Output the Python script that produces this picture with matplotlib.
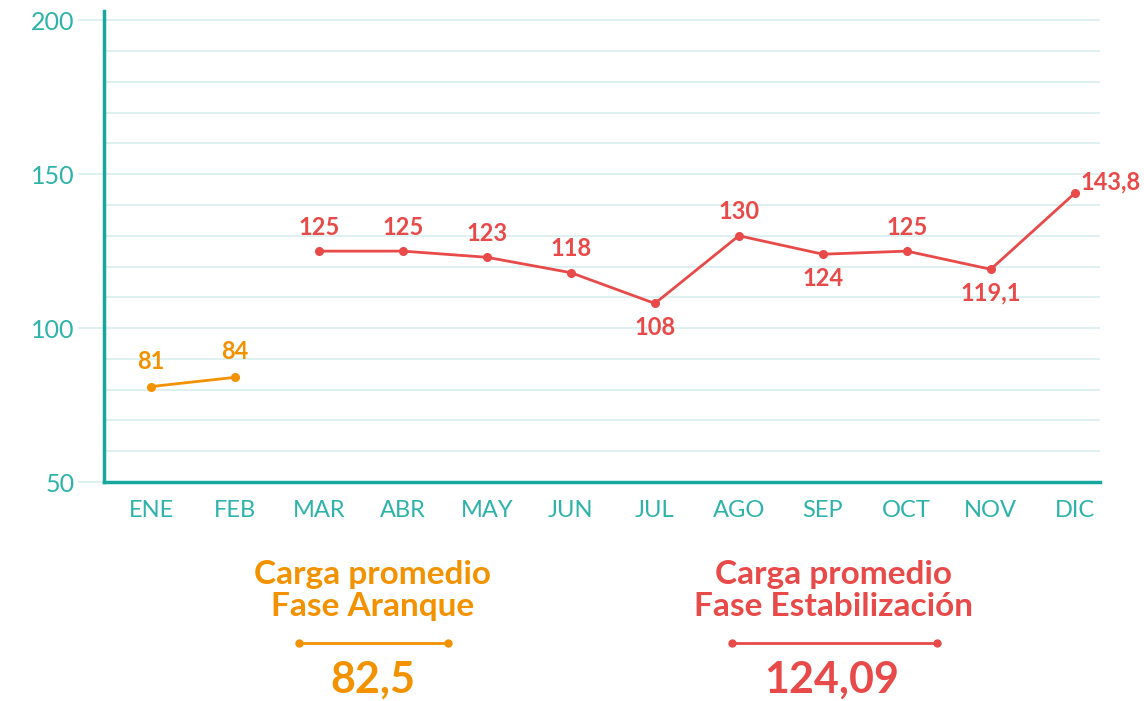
import matplotlib
matplotlib.use('Agg')
import matplotlib.pyplot as plt
from matplotlib.lines import Line2D

# data
meses = ['ENE', 'FEB', 'MAR', 'ABR', 'MAY', 'JUN', 'JUL', 'AGO', 'SEP', 'OCT', 'NOV', 'DIC']
aranque = [81, 84]
estabilizacion = [125, 125, 123, 118, 108, 130, 124, 125, 119.1, 143.8]
prom_aranque = '82,5'
prom_estab = '124,09'
yticks = [50, 100, 150, 200]

naranja = '#F39200'
rojo = '#E84A4A'
teal = '#17A79E'
teal_txt = '#2DB3AA'
grid_col = '#D6ECEC'

plt.rcParams['font.family'] = ['Lato', 'DejaVu Sans']

fig = plt.figure(figsize=(11.44, 7.01), dpi=100)
ax = fig.add_axes([0.0909, 0.3124, 0.8706, 0.6719])


def fmt(v):
    if v == int(v):
        return str(int(v))
    return ('%.1f' % v).replace('.', ',')


x_a = list(range(len(aranque)))
x_e = list(range(2, 2 + len(estabilizacion)))

# grid lines every 10
for yv in range(60, 201, 10):
    ax.axhline(yv, color=grid_col, lw=1.1, zorder=0)

ax.plot(x_a, aranque, color=naranja, lw=2, marker='o', ms=5.5, zorder=3)
ax.plot(x_e, estabilizacion, color=rojo, lw=2, marker='o', ms=5.5, zorder=3)

# value labels
abajo = ['JUL', 'SEP', 'NOV']
for x, v in zip(x_a, aranque):
    ax.annotate(fmt(v), (x, v), xytext=(0, 10), textcoords='offset points',
                ha='center', va='bottom', color=naranja, fontsize=17, fontweight='bold')
for x, v in zip(x_e, estabilizacion):
    mes = meses[x]
    if mes == 'DIC':
        ax.annotate(fmt(v), (x, v), xytext=(4, 0), textcoords='offset points',
                    ha='left', va='bottom', color=rojo, fontsize=17, fontweight='bold')
    elif mes in abajo:
        ax.annotate(fmt(v), (x, v), xytext=(0, -9), textcoords='offset points',
                    ha='center', va='top', color=rojo, fontsize=17, fontweight='bold')
    else:
        ax.annotate(fmt(v), (x, v), xytext=(0, 9), textcoords='offset points',
                    ha='center', va='bottom', color=rojo, fontsize=17, fontweight='bold')

ax.set_xlim(-0.56, 11.3)
ax.set_ylim(50, 203)
ax.set_xticks(range(len(meses)))
ax.set_xticklabels(meses)
ax.set_yticks(yticks)
ax.tick_params(axis='x', length=0, pad=13, labelsize=17, labelcolor=teal_txt)
ax.tick_params(axis='y', length=19, width=1.1, color=grid_col, pad=2,
               labelsize=18, labelcolor=teal_txt)

for s in ['top', 'right']:
    ax.spines[s].set_visible(False)
ax.spines['left'].set_color(teal)
ax.spines['bottom'].set_color(teal)
ax.spines['left'].set_linewidth(2.5)
ax.spines['bottom'].set_linewidth(2.5)

# bottom summary blocks
fig.text(0.326, 0.158, 'Carga promedio\nFase Aranque', ha='center', va='center',
         color=naranja, fontsize=24, fontweight='bold', linespacing=1.12)
fig.add_artist(Line2D([0.2614, 0.3916], [0.0827, 0.0827], transform=fig.transFigure,
                      color=naranja, lw=2, marker='o', ms=5))
fig.text(0.326, 0.030, prom_aranque, ha='center', va='center',
         color=naranja, fontsize=31, fontweight='bold')

fig.text(0.729, 0.158, 'Carga promedio\nFase Estabilización', ha='center', va='center',
         color=rojo, fontsize=24, fontweight='bold', linespacing=1.12)
fig.add_artist(Line2D([0.6399, 0.8190], [0.0827, 0.0827], transform=fig.transFigure,
                      color=rojo, lw=2, marker='o', ms=5))
fig.text(0.727, 0.030, prom_estab, ha='center', va='center',
         color=rojo, fontsize=31, fontweight='bold')

plt.savefig('out.png', dpi=100)
